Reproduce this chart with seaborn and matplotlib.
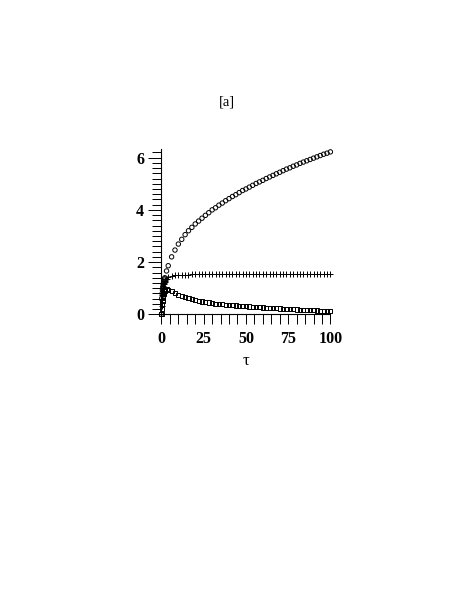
import numpy as np
import pandas as pd
import seaborn as sns
import matplotlib
matplotlib.use("Agg")
import matplotlib.pyplot as plt
from matplotlib.ticker import MultipleLocator

# values
tau = [0, 0.2, 0.4, 0.6, 0.8, 1.0, 1.2, 1.4, 1.6, 1.8, 2.0, 3, 4,
       6, 8, 10, 12, 14, 16, 18, 20, 22, 24, 26, 28, 30, 32, 34, 36, 38, 40,
       42, 44, 46, 48, 50, 52, 54, 56, 58, 60, 62, 64, 66, 68, 70, 72, 74, 76,
       78, 80, 82, 84, 86, 88, 90, 92, 94, 96, 98, 100]

circles = [0, 0.62, 0.80, 0.93, 1.03, 1.12, 1.19, 1.25, 1.31, 1.36, 1.40, 1.66, 1.86,
           2.20, 2.46, 2.69, 2.87, 3.05, 3.20, 3.33, 3.46, 3.57, 3.68, 3.79, 3.89, 4.00,
           4.08, 4.18, 4.26, 4.35, 4.43, 4.51, 4.58, 4.66, 4.74, 4.80, 4.87, 4.94, 5.01,
           5.07, 5.13, 5.20, 5.26, 5.32, 5.38, 5.44, 5.50, 5.56, 5.61, 5.67, 5.72, 5.78,
           5.83, 5.88, 5.93, 5.98, 6.03, 6.08, 6.13, 6.17, 6.22]

crosses = [0, 0.30, 0.55, 0.75, 0.90, 1.00, 1.08, 1.15, 1.20, 1.25, 1.28, 1.36, 1.41,
           1.46, 1.49, 1.50, 1.51, 1.52, 1.52, 1.53, 1.53, 1.53, 1.53, 1.53, 1.53, 1.53,
           1.53, 1.53, 1.53, 1.53, 1.53, 1.53, 1.53, 1.53, 1.53, 1.53, 1.53, 1.535, 1.535,
           1.535, 1.535, 1.535, 1.535, 1.535, 1.535, 1.535, 1.54, 1.54, 1.54, 1.54, 1.54,
           1.54, 1.54, 1.54, 1.54, 1.54, 1.54, 1.54, 1.54, 1.54, 1.54]

squares = [0, 0.20, 0.38, 0.52, 0.63, 0.72, 0.78, 0.83, 0.87, 0.90, 0.92, 0.96, 0.94,
           0.88, 0.81, 0.75, 0.70, 0.66, 0.62, 0.58, 0.55, 0.52, 0.49, 0.47, 0.45, 0.43,
           0.41, 0.39, 0.38, 0.365, 0.355, 0.345, 0.335, 0.325, 0.315, 0.31, 0.30, 0.29,
           0.28, 0.27, 0.26, 0.255, 0.245, 0.24, 0.23, 0.22, 0.215, 0.205, 0.20, 0.19,
           0.185, 0.18, 0.17, 0.165, 0.16, 0.15, 0.145, 0.14, 0.13, 0.125, 0.12]

df = pd.DataFrame({"tau": tau, "circles": circles, "crosses": crosses, "squares": squares})

sns.set_style("ticks")
plt.rcParams['font.family'] = ['Liberation Serif', 'DejaVu Serif']
plt.rcParams['text.color'] = 'black'
plt.rcParams['xtick.color'] = 'black'
plt.rcParams['ytick.color'] = 'black'
plt.rcParams['axes.labelcolor'] = 'black'
plt.rcParams['axes.edgecolor'] = 'black'

fig = plt.figure(figsize=(4.68, 6.05), dpi=100)
ax = fig.add_axes([0.345, 0.4805, 0.361, 0.2732])

sns.scatterplot(data=df, x="tau", y="circles", marker="o", s=10, facecolor="none",
                edgecolor="black", linewidth=0.7, ax=ax, clip_on=False, zorder=3)
sns.scatterplot(data=df, x="tau", y="squares", marker="s", s=9, facecolor="none",
                edgecolor="black", linewidth=0.7, ax=ax, clip_on=False, zorder=3)
sns.scatterplot(data=df, x="tau", y="crosses", marker="+", s=14, color="black",
                linewidth=0.7, ax=ax, clip_on=False, zorder=3)

ax.set_xlim(0, 100)
ax.set_ylim(0, 6.33)
ax.xaxis.set_major_locator(MultipleLocator(25))
ax.xaxis.set_minor_locator(MultipleLocator(5))
ax.yaxis.set_major_locator(MultipleLocator(2))
ax.yaxis.set_minor_locator(MultipleLocator(0.2))

ax.tick_params(axis="y", which="major", direction="out", length=9.5, width=0.7, pad=3)
ax.tick_params(axis="y", which="minor", direction="out", length=6.5, width=0.7)
ax.tick_params(axis="x", which="both", direction="out", length=7, width=0.7, pad=5)
for lab in ax.get_xticklabels() + ax.get_yticklabels():
    lab.set_fontweight("bold")
    lab.set_fontsize(11.5)

sns.despine(ax=ax)
for sp in ["left", "bottom"]:
    ax.spines[sp].set_linewidth(0.8)

ax.set_xlabel("τ", fontsize=12, labelpad=4)
ax.set_ylabel("")

fig.text(0.485, 0.831, "[a]", ha="center", va="center", fontsize=10.5)

fig.savefig("out.png", dpi=100)
